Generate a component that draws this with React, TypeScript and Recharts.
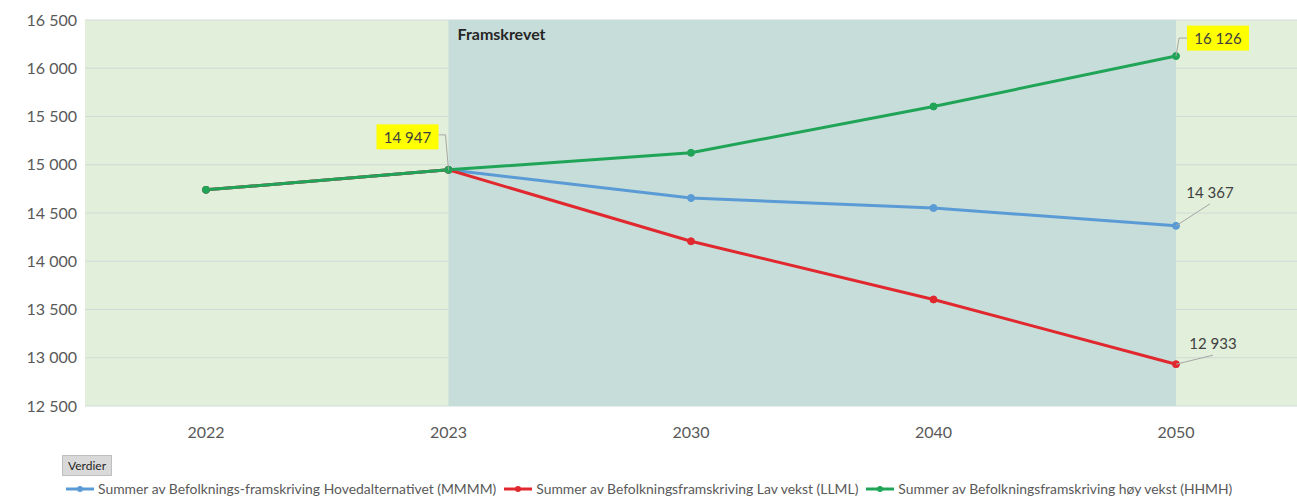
import React from "react";
import {
  LineChart,
  Line,
  XAxis,
  YAxis,
  CartesianGrid,
  ReferenceArea,
} from "recharts";

const years = ["2022", "2023", "2030", "2040", "2050"];
const hovedalternativ = [14740, 14947, 14655, 14552, 14367];
const lavVekst = [14740, 14947, 14207, 13604, 12933];
const hoyVekst = [14740, 14947, 15124, 15604, 16126];
const yTicks = [12500, 13000, 13500, 14000, 14500, 15000, 15500, 16000, 16500];

const seriesNames = {
  hoved: "Summer av Befolknings-framskriving Hovedalternativet (MMMM)",
  lav: "Summer av Befolkningsframskriving Lav vekst (LLML)",
  hoy: "Summer av Befolkningsframskriving høy vekst (HHMH)",
};

const colors = {
  hoved: "#5b9bd5",
  lav: "#e0282e",
  hoy: "#20a457",
};

const data = years.map((year, i) => ({
  year,
  hoved: hovedalternativ[i],
  lav: lavVekst[i],
  hoy: hoyVekst[i],
}));

const fmt = (v: number) => String(v).replace(/\B(?=(\d{3})+(?!\d))/g, " ");

const FONT = "Lato, 'Open Sans', sans-serif";

// callouts: which series / point gets a label, and where it sits relative to the point
const callouts: Record<string, { index: number; dx: number; dy: number; highlight: boolean }[]> = {
  hoy: [
    { index: 1, dx: -41, dy: -33, highlight: true },
    { index: 4, dx: 42, dy: -18, highlight: true },
  ],
  hoved: [{ index: 4, dx: 34, dy: -34, highlight: false }],
  lav: [{ index: 4, dx: 37, dy: -21, highlight: false }],
};

function makeLabel(key: string) {
  return (props: any) => {
    const { x, y, index, value } = props;
    const c = (callouts[key] || []).find((k) => k.index === index);
    if (!c) return null;
    const cx = x + c.dx;
    const cy = y + c.dy;
    const w = 62;
    const h = 25;
    let leader = "";
    if (c.highlight) {
      if (c.dx < 0) {
        leader = `M${cx + w / 2},${cy - 2} L${x - 3},${cy - 2} L${x},${y}`;
      } else {
        leader = `M${x},${y} L${x + 3},${cy} L${cx - w / 2},${cy}`;
      }
    } else {
      leader = `M${x},${y} L${cx},${cy + 12}`;
    }
    return (
      <g key={`lbl-${key}-${index}`}>
        <path d={leader} stroke="#a6a6a6" strokeWidth={1} fill="none" />
        {c.highlight && (
          <rect x={cx - w / 2} y={cy - h / 2} width={w} height={h} fill="#ffff00" />
        )}
        <text
          x={cx}
          y={cy}
          textAnchor="middle"
          dominantBaseline="central"
          fontSize={15}
          fontFamily={FONT}
          fill="#404040"
        >
          {fmt(value)}
        </text>
      </g>
    );
  };
}

function LegendIcon({ color }: { color: string }) {
  return (
    <svg width={28} height={10} style={{ marginRight: 4 }}>
      <line x1={0} y1={5} x2={28} y2={5} stroke={color} strokeWidth={3} />
      <circle cx={14} cy={5} r={3} fill={color} />
    </svg>
  );
}

export default function App() {
  const keys: ("hoved" | "lav" | "hoy")[] = ["hoved", "lav", "hoy"];
  return (
    <div
      style={{
        position: "absolute",
        left: 0,
        top: 0,
        width: 1297,
        height: 497,
        background: "#ffffff",
        fontFamily: FONT,
      }}
    >
      <LineChart
        width={1297}
        height={446}
        data={data}
        margin={{ top: 20, right: 0, left: 0, bottom: 0 }}
      >
        <CartesianGrid fill="#e2efda" stroke="none" horizontal={false} vertical={false} />
        <ReferenceArea
          x1="2023"
          x2="2050"
          fill="#c6ddd9"
          fillOpacity={1}
          stroke="none"
          label={{
            value: "Framskrevet",
            position: "insideTopLeft",
            offset: 9,
            fontSize: 16,
            fontWeight: 700,
            fill: "#262626",
            fontFamily: FONT,
          }}
        />
        <CartesianGrid stroke="#cfdbd6" vertical={false} />
        <XAxis
          dataKey="year"
          padding={{ left: 121, right: 121 }}
          axisLine={false}
          tickLine={false}
          tickMargin={15}
          height={40}
          tick={{ fill: "#595959", fontSize: 16, fontFamily: FONT }}
        />
        <YAxis
          domain={[12500, 16500]}
          ticks={yTicks}
          width={85}
          axisLine={false}
          tickLine={false}
          tickFormatter={fmt}
          tick={{ fill: "#595959", fontSize: 16, fontFamily: FONT }}
        />
        {keys.map((k) => (
          <Line
            key={k}
            dataKey={k}
            name={seriesNames[k]}
            stroke={colors[k]}
            strokeWidth={3}
            dot={{ r: 3.5, fill: colors[k], stroke: colors[k], strokeWidth: 1 }}
            isAnimationActive={false}
            label={makeLabel(k)}
          />
        ))}
      </LineChart>
      <div
        style={{
          position: "absolute",
          left: 62,
          top: 455,
          padding: "2px 5px",
          background: "#d9d9d9",
          border: "1px solid #bfbfbf",
          fontSize: 12,
          color: "#262626",
        }}
      >
        Verdier
      </div>
      <div
        style={{
          position: "absolute",
          left: 66,
          top: 480,
          display: "flex",
          alignItems: "center",
          fontSize: 13.9,
          color: "#595959",
          whiteSpace: "nowrap",
        }}
      >
        {keys.map((k) => (
          <div key={k} style={{ display: "flex", alignItems: "center", marginRight: 8 }}>
            <LegendIcon color={colors[k]} />
            <span>{seriesNames[k]}</span>
          </div>
        ))}
      </div>
    </div>
  );
}
